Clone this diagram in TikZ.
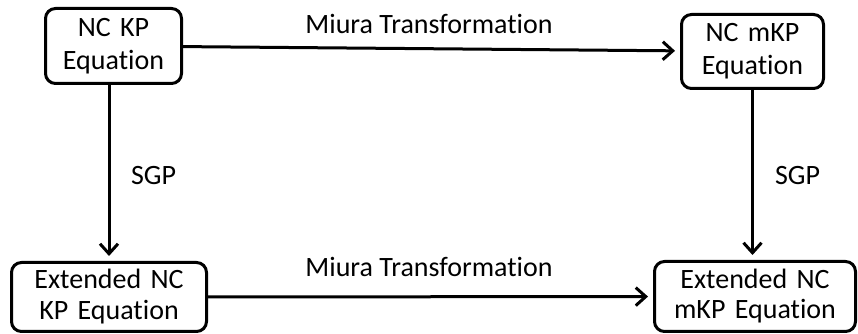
\documentclass[tikz,border=0pt]{standalone}
\usepackage{fontspec}
\setmainfont{Carlito}[Ligatures=NoCommon]
\usetikzlibrary{positioning,arrows.meta}

\begin{document}
\begin{tikzpicture}[x=1pt,y=1pt,text centered,font=\fontsize{28}{33}\selectfont]
            \tikzstyle{box}=[draw,line width=3pt,rounded corners=10pt,inner sep=0pt]
            \tikzstyle{link}=[-{Straight Barb[length=10pt,width=18pt]},line width=3pt,shorten >=5pt]
            \useasboundingbox (0,0) rectangle (858,334);
            \node[box,minimum width=136,minimum height=75,text width=136] (kp) at (113.5,288) {NC KP\\Equation};
            \node[box,minimum width=142,minimum height=74,text width=142] (mkp) at (752.5,282.5) {NC mKP\\Equation};
            \node[box,minimum width=195,minimum height=69,text width=195,font=\fontsize{28}{31}\selectfont] (ekp) at (109,37) {Extended NC\\KP Equation};
            \node[box,minimum width=201,minimum height=70,text width=201,font=\fontsize{28}{30}\selectfont] (emkp) at (755,37.5) {Extended NC\\mKP Equation};

            \node[anchor=base] (miura1) at (429,300) {Miura Transformation};
            \node[anchor=base] (miura2) at (429,57) {Miura Transformation};
            \node[anchor=base] (sgp1) at (153.5,149) {SGP};
            \node[anchor=base] (sgp2) at (797.5,149) {SGP};

            \draw[link] (kp) -- (mkp);
            \draw[link] (ekp) -- (emkp);
            \draw[link] (kp.south -| ekp) -- (ekp);
            \draw[link] (mkp) -- (mkp |- emkp.north);
        \end{tikzpicture}
\end{document}
